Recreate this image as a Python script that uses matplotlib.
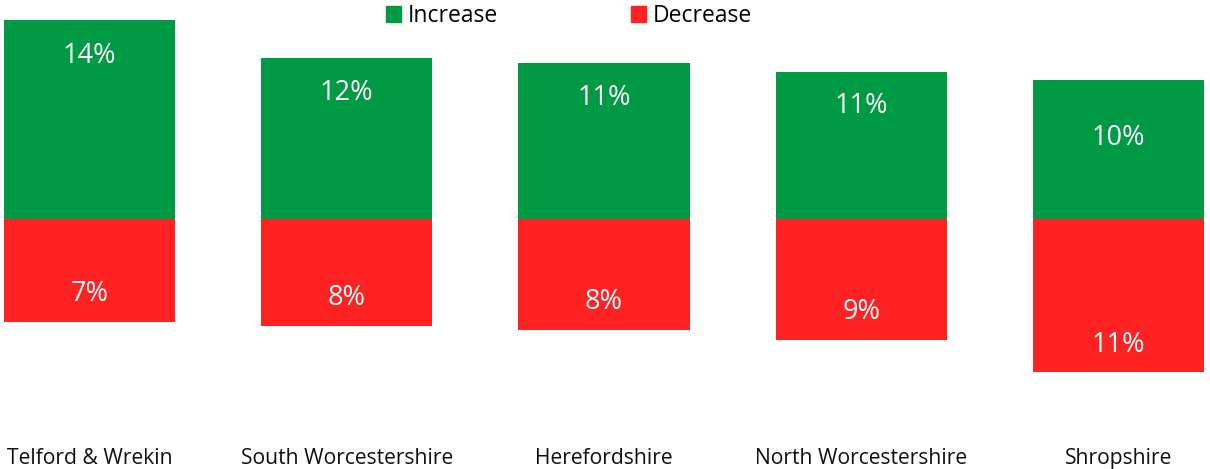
import matplotlib.pyplot as plt
from matplotlib.patches import Patch

plt.rcParams['font.family'] = ['Open Sans', 'DejaVu Sans']

areas = ['Telford & Wrekin', 'South Worcestershire', 'Herefordshire',
         'North Worcestershire', 'Shropshire']
increase = [14.4, 11.7, 11.3, 10.65, 10.1]
decrease = [7.45, 7.75, 8.05, 8.75, 11.1]
inc_labels = ['14%', '12%', '11%', '11%', '10%']
dec_labels = ['7%', '8%', '8%', '9%', '11%']

green = '#009944'
red = '#FF2222'

fig = plt.figure(figsize=(12.10, 4.69), dpi=100)
# axes covers the full width, bottom edge just above the category labels
ax = fig.add_axes([0, (469 - 440) / 469, 1, 440 / 469])

x = list(range(len(areas)))
width = 0.665
ax.bar(x, increase, width, color=green)
ax.bar(x, [-d for d in decrease], width, color=red)

# data labels (the Shropshire increase label sits lower, as in the original)
inc_off = [2.6, 2.6, 2.55, 2.45, 4.2]
for i in x:
    ax.text(i, increase[i] - inc_off[i], inc_labels[i], ha='center', va='center',
            color='white', fontsize=19.5)
    ax.text(i, -decrease[i] + 2.0, dec_labels[i], ha='center', va='center',
            color='white', fontsize=19.5)

ax.set_xlim(-89.5 / 257.25, 4 + (1210 - 1118.5) / 257.25)
ax.set_ylim(-(440 - 219) / 13.8, 219 / 13.8)
ax.set_xticks(x)
ax.set_xticklabels(areas, fontsize=15.2, color='#111111')
ax.tick_params(axis='x', length=0, pad=6)
ax.set_yticks([])
for s in ax.spines.values():
    s.set_visible(False)

handles = [Patch(color=green, label='Increase'), Patch(color=red, label='Decrease')]
fig.legend(handles=handles, loc='center', bbox_to_anchor=(569 / 1210, 1 - 16 / 469),
           ncol=2, frameon=False, fontsize=16.5, handlelength=0.65, handleheight=0.65,
           handletextpad=0.3, columnspacing=5.8)

fig.savefig('out.png', dpi=100)
